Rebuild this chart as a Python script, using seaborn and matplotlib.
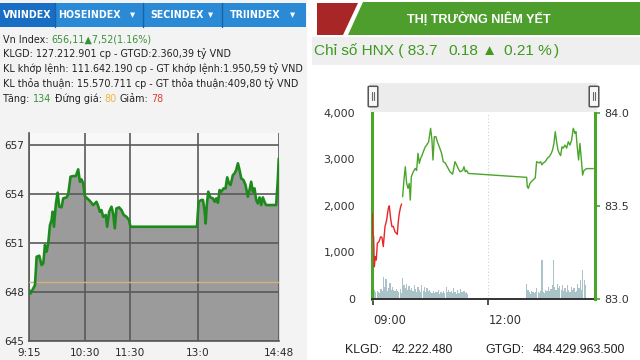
import matplotlib
matplotlib.use("Agg")
import matplotlib.pyplot as plt
from matplotlib.patches import Rectangle, Polygon, FancyBboxPatch
from matplotlib.lines import Line2D
import seaborn as sns
import pandas as pd

# ---------------- VN-Index (left panel) ----------------
vn_minutes = [0, 1.8, 5.3, 7.6, 9.8, 13.3, 16.4, 18.7, 20.9, 23.1, 25.3, 27.6, 29.8, 31.1, 32.9,
              35.6, 37.8, 40, 43.1, 45.3, 49.8, 52, 55.1, 58.7, 62.2, 65.3, 67.6, 69.8, 72, 74.2,
              77.3, 80.9, 85.3, 89.8, 92, 94.2, 96.4, 98.7, 102.2, 104, 106.7, 109.8, 112, 114.2,
              116.4, 120, 123.1, 126.2, 129.8, 133.3, 135.1, 224, 226.2, 229.8, 232, 234.2, 235.6,
              237.3, 239.1, 241.8, 245.3, 247.6, 249.8, 252, 254.2, 256.4, 259.6, 262.2, 264.4,
              266.7, 268.9, 272, 274.2, 276.4, 278.7, 280.9, 283.1, 286.2, 288.9, 292, 294.2, 296.4,
              298.7, 300.9, 303.1, 305.3, 307.6, 309.8, 312, 314.2, 316.4, 329.8, 332, 333.3]
vn_values = [648.10, 647.90, 648.21, 648.41, 650.15, 650.21, 649.64, 649.74, 650.87, 650.46, 650.97,
             652.09, 652.40, 652.91, 651.99, 653.42, 654.08, 653.22, 653.18, 653.73, 653.79, 653.99,
             655.06, 655.10, 655.10, 655.51, 654.75, 654.89, 654.65, 653.87, 653.73, 653.58, 653.32,
             653.52, 653.26, 652.91, 653.01, 652.60, 652.71, 651.99, 652.91, 653.22, 652.81, 651.89,
             653.11, 653.18, 653.01, 652.71, 652.60, 652.40, 651.99, 651.99, 653.52, 653.63, 653.63,
             652.97, 652.19, 653.42, 654.14, 653.79, 653.73, 653.52, 653.73, 653.46, 654.24, 654.14,
             654.34, 654.34, 655.02, 654.65, 654.55, 655.16, 655.26, 655.47, 655.88, 655.47, 654.96,
             654.85, 654.55, 653.83, 654.24, 654.75, 654.14, 654.34, 653.63, 653.42, 653.79, 653.32,
             653.79, 653.52, 653.32, 653.32, 654.85, 656.18]
vn_ref = 648.59
vn_xticks = [0, 75, 135, 225, 333]
vn_xlabels = ["9:15", "10:30", "11:30", "13:0", "14:48"]
vn_yticks = [645, 648, 651, 654, 657]
vn_tabs = ["VNINDEX", "HOSEINDEX", "SECINDEX", "TRIINDEX"]
vn_info = ["KLGD: 127.212.901 cp - GTGD:2.360,39 tỷ VND",
           "KL khớp lệnh: 111.642.190 cp - GT khớp lệnh:1.950,59 tỷ VND",
           "KL thỏa thuận: 15.570.711 cp - GT thỏa thuận:409,80 tỷ VND"]

# ---------------- HNX (right panel) ----------------
hnx_minutes = [-1.6, -1, 0.5, 1.6, 3.1, 4.7, 6.3, 8.9, 11.5, 13.6, 15.6, 18.3, 20.9, 23.5, 25, 27.1,
               29.2, 31.3, 33.9, 37.6, 39.1, 40.7, 42.8, 44.3,
               45.9, 48, 50.1, 52.2, 54.3, 56.3, 57.9, 59.5, 62.6, 65.7, 67.8, 69.9, 72, 74.1, 76.2,
               78.2, 81.4, 83.5, 86.6, 89.7, 91.8, 93.4, 95.5, 98.1, 100.2, 103.3, 106.9, 109.5,
               112.7, 115.8, 120, 124.2, 127.8, 130.4, 133, 135.6, 139.8, 141.9, 144, 146.1, 148.7,
               240, 241, 242.6, 245.2, 247.3, 250.4, 253.5, 255.6, 259.8, 261.9, 264, 266, 269.2,
               272.3, 275.4, 278.6, 280.6, 282.7, 284.8, 286.9, 289, 291.1, 293.2, 295.3, 297.3, 300,
               302.6, 305.2, 307.8, 310.4, 313, 315.6, 317.2, 319.2, 321.3, 323.4, 325.5, 327.6,
               329.7, 333.9, 339.1, 344.3]
hnx_prices = [83.460, 83.353, 83.334, 83.173, 83.227, 83.209, 83.299, 83.308, 83.334, 83.330, 83.281,
              83.388, 83.424, 83.487, 83.500, 83.433, 83.388, 83.390, 83.361, 83.347, 83.415, 83.460,
              83.495, 83.510,
              83.549, 83.639, 83.710, 83.620, 83.594, 83.620, 83.531, 83.656, 83.683, 83.701, 83.690,
              83.782, 83.728, 83.755, 83.770, 83.790, 83.817, 83.826, 83.844, 83.916, 83.853, 83.746,
              83.871, 83.871, 83.844, 83.817, 83.782, 83.737, 83.730, 83.710, 83.683, 83.670, 83.737,
              83.720, 83.700, 83.683, 83.690, 83.710, 83.683, 83.690, 83.674,
              83.653, 83.603, 83.594, 83.620, 83.630, 83.640, 83.650, 83.737, 83.730, 83.737, 83.720,
              83.730, 83.737, 83.755, 83.764, 83.782, 83.800, 83.835, 83.898, 83.844, 83.800, 83.782,
              83.770, 83.817, 83.810, 83.826, 83.810, 83.844, 83.826, 83.853, 83.916, 83.889, 83.898,
              83.817, 83.746, 83.835, 83.755, 83.665, 83.690, 83.700, 83.700, 83.700]
hnx_ref = 83.52
vol_minutes = [0, 2, 4, 6, 8, 10, 12, 14, 16, 18, 20, 22, 24, 26, 28, 30, 32, 34, 36, 38, 40, 42, 44,
               46, 48, 50, 52, 54, 56, 58, 60, 62, 64, 66, 68, 70, 72, 74, 76, 78, 80, 82, 84, 86,
               88, 90, 92, 94, 96, 98, 100, 102, 104, 106, 108, 110, 112, 114, 116, 118, 120, 122,
               124, 126, 128, 130, 132, 134, 136, 138, 140, 142, 144, 146, 148,
               240, 242, 244, 246, 248, 250, 252, 254, 256, 258, 260, 262, 264, 266, 268, 270, 272,
               274, 276, 278, 280, 282, 284, 286, 288, 290, 292, 294, 296, 298, 300, 302, 304, 306,
               308, 310, 312, 314, 316, 318, 320, 322, 324, 326, 328, 330, 332]
vol_values = [380, 200, 150, 180, 160, 130, 210, 170, 480, 260, 420, 180, 230, 350, 190, 260, 200,
              170, 220, 180, 150, 210, 130, 460, 300, 240, 330, 200, 270, 190, 230, 170, 300, 220,
              160, 250, 190, 150, 310, 180, 260, 140, 230, 170, 200, 150, 130, 180, 120, 160, 140,
              190, 110, 150, 130, 170, 120, 250, 160, 200, 140, 180, 120, 230, 150, 110, 190, 130,
              220, 160, 140, 180, 120, 150, 100,
              330, 200, 150, 110, 180, 140, 120, 160, 230, 140, 120, 180, 840, 150, 130, 200, 170,
              260, 180, 220, 300, 840, 250, 190, 330, 240, 280, 200, 300, 180, 240, 160, 300, 200,
              150, 260, 190, 230, 140, 180, 320, 240, 400, 200, 620, 400, 300]
hnx_xticks = [0, 180]
hnx_xlabels = ["09:00", "12:00"]
vol_yticks = [0, 1000, 2000, 3000, 4000]
price_yticks = [83.0, 83.5, 84.0]

W, H = 640, 360
sns.set_theme(style="white")
plt.rcParams["font.family"] = ["DejaVu Sans"]
NARROW = ["Liberation Sans Narrow", "Liberation Sans", "DejaVu Sans"]

fig = plt.figure(figsize=(6.4, 3.6), dpi=100)
fig.patch.set_facecolor("white")
R = fig.canvas.get_renderer()


def fx(x):
    return x / W


def fy(y):
    return 1 - y / H


def rect(x0, y0, x1, y1, color, z=0, **kw):
    fig.patches.append(Rectangle((fx(x0), fy(y1)), fx(x1 - x0), (y1 - y0) / H,
                                 transform=fig.transFigure, facecolor=color,
                                 edgecolor="none", zorder=z, **kw))


def fit_size(s, width, family, weight="normal", base=10):
    t = fig.text(0, 0, s, fontsize=base, family=family, weight=weight)
    w = t.get_window_extent(renderer=R).width
    t.remove()
    return base * width / w


def chain(x, y, parts, size, family, weight="normal"):
    for s, c, gap in parts:
        x += gap
        t = fig.text(fx(x), fy(y), s, color=c, fontsize=size, family=family,
                     weight=weight, va="center", ha="left")
        x = t.get_window_extent(renderer=R).x1
    return x


# ================= LEFT PANEL =================
rect(0, 0, 307, 360, "#f3f3f3", z=-5)
rect(0, 3, 306, 27, "#2a8ad6", z=1)
rect(0, 3, 55, 27, "#176ec4", z=2)
for xs in [55, 143, 222]:
    fig.lines.append(Line2D([fx(xs), fx(xs)], [fy(3), fy(27)], transform=fig.transFigure,
                            color="#1a62a8", lw=1, zorder=3))
tab_size = fit_size("HOSEINDEX", 63, ["DejaVu Sans"], weight="bold")
fig.text(fx(27.5), fy(15.5), vn_tabs[0], color="white", fontsize=tab_size, weight="bold",
         ha="center", va="center")
for label, x0, xa in [(vn_tabs[1], 58, 133), (vn_tabs[2], 150, 211), (vn_tabs[3], 230, 293)]:
    fig.text(fx(x0), fy(15.5), label, color="white", fontsize=tab_size, weight="bold",
             ha="left", va="center")
    fig.text(fx(xa), fy(15), "▼", color="white", fontsize=tab_size * 0.7, ha="center", va="center")

info_size = fit_size(vn_info[1], 300, ["DejaVu Sans"])
DARK = "#222222"
chain(3, 40, [("Vn Index:", DARK, 0), ("656,11▲7,52(1.16%)", "#3a923a", 3)], info_size, ["DejaVu Sans"])
for i, s in enumerate(vn_info):
    chain(3, 53.5 + 15 * i, [(s, DARK, 0)], info_size, ["DejaVu Sans"])
chain(3, 98.5, [("Tăng:", DARK, 0), ("134", "#3a923a", 3), ("Đứng giá:", DARK, 3),
                ("80", "#f2b43a", 3), ("Giảm:", DARK, 3), ("78", "#e23b3b", 3)],
      info_size, ["DejaVu Sans"])

ax1 = fig.add_axes([fx(29.3), fy(340.7), 250 / W, (340.7 - 133) / H])
ax1.set_zorder(2)
ax1.set_facecolor("#f8f8f8")
ax1.fill_between(vn_minutes, vn_values, 645, color="#9b9b9b", linewidth=0, zorder=1)
ax1.axhline(vn_ref, color="#d3b17c", lw=1.0, zorder=3)
sns.lineplot(x=vn_minutes, y=vn_values, ax=ax1, color="#1e8a1e", linewidth=1.9,
             estimator=None, sort=False, zorder=4)
ax1.set_xlim(0, 334)
ax1.set_ylim(645, 657.74)
ax1.set_xticks(vn_xticks)
ax1.set_xticklabels(vn_xlabels)
ax1.set_yticks(vn_yticks)
ax1.set_yticklabels([str(v) for v in vn_yticks])
ax1.set_axisbelow(False)
ax1.grid(True, color="#5a5a5a", lw=1.2)
ax1.tick_params(axis="both", length=0, labelsize=7.6, labelcolor="#2a2a2a")
ax1.tick_params(axis="x", pad=5)
ax1.tick_params(axis="y", pad=3.5)
ax1.set_xlabel("")
ax1.set_ylabel("")
for side in ["top", "right"]:
    ax1.spines[side].set_visible(False)
for side in ["left", "bottom"]:
    ax1.spines[side].set_color("#5a5a5a")
    ax1.spines[side].set_linewidth(1.2)

# ================= RIGHT PANEL =================
fig.patches.append(Polygon([(fx(317), fy(3)), (fx(358), fy(3)), (fx(343), fy(35)), (fx(317), fy(35))],
                           closed=True, transform=fig.transFigure, facecolor="#a82626",
                           edgecolor="none", zorder=1))
fig.patches.append(Polygon([(fx(363), fy(2)), (fx(640), fy(2)), (fx(640), fy(35)), (fx(348), fy(35))],
                           closed=True, transform=fig.transFigure, facecolor="#4e9e2e",
                           edgecolor="none", zorder=1))
title_size = fit_size("THỊ TRƯỜNG NIÊM YẾT", 143, NARROW, weight="bold")
fig.text(fx(478.5), fy(18.5), "THỊ TRƯỜNG NIÊM YẾT", color="white", fontsize=title_size,
         family=NARROW, weight="bold", ha="center", va="center")
rect(312, 37, 640, 65, "#efefef", z=1)
GREEN = "#3f9a1f"
sub_size = fit_size("Chỉ số HNX ( 83.7", 124, NARROW)
chain(314, 51, [("Chỉ số HNX ( 83.7", GREEN, 0), ("0.18", GREEN, 11), ("▲", GREEN, 4),
                ("0.21 %", GREEN, 6), (")", GREEN, 3)], sub_size, NARROW)
# navigator band with handles
rect(370, 83, 597, 112, "#ececec", z=1)
for hx in [373, 594]:
    fig.patches.append(FancyBboxPatch((fx(hx - 3.5), fy(106)), fx(7), 19 / H,
                                      boxstyle="round,pad=0.002", transform=fig.transFigure,
                                      facecolor="#f7f7f7", edgecolor="#555555", lw=1.1, zorder=3))
    for dx in [-1, 1]:
        fig.lines.append(Line2D([fx(hx + dx), fx(hx + dx)], [fy(92), fy(100)],
                                transform=fig.transFigure, color="#666666", lw=0.8, zorder=4))

axv = fig.add_axes([fx(371.7), fy(299), 223.3 / W, 186.3 / H])
axv.set_facecolor("white")
axv.bar(vol_minutes, vol_values, width=1.9, color="#aac3c9", linewidth=0, zorder=2)
axv.axvline(180, color="#d0d0d0", lw=0.8, ls=(0, (1, 2)), zorder=1)
axv.set_xlim(-2.5, 347)
axv.set_ylim(0, 4000)
axv.set_yticks(vol_yticks)
axv.set_yticklabels([f"{v:,}" for v in vol_yticks])
axv.set_xticks(hnx_xticks)
axv.set_xticklabels(hnx_xlabels, ha="left")
axv.tick_params(axis="y", length=0, pad=12, labelsize=8, labelcolor="#333333")
axv.tick_params(axis="x", length=4, width=1.2, color="#333333", pad=7, labelsize=8.3,
                labelcolor="#333333", bottom=True)
axv.grid(False)
axv.spines["top"].set_visible(False)
axv.spines["right"].set_visible(False)
axv.spines["left"].set_color("#4aa52a")
axv.spines["left"].set_linewidth(2.2)
axv.spines["bottom"].set_color("#333333")
axv.spines["bottom"].set_linewidth(1.4)

axp = axv.twinx()
df = pd.DataFrame({"minute": hnx_minutes, "price": hnx_prices})
below = df[df["price"] < hnx_ref]
above = df[df["price"] >= hnx_ref]
sns.lineplot(data=below, x="minute", y="price", ax=axp, color="#e8262a", linewidth=1.0,
             estimator=None, sort=False)
sns.lineplot(data=above, x="minute", y="price", ax=axp, color="#4aa52a", linewidth=1.0,
             estimator=None, sort=False)
axp.set_xlim(-2.5, 347)
axp.set_ylim(83.0, 84.0)
axp.set_yticks(price_yticks)
axp.set_yticklabels([f"{v:.1f}" for v in price_yticks])
axp.set_xlabel("")
axp.set_ylabel("")
axp.tick_params(axis="y", length=3.6, width=1.2, color="#4aa52a", pad=3, labelsize=8,
                labelcolor="#333333", right=True)
axp.grid(False)
for side in ["top", "left", "bottom"]:
    axp.spines[side].set_visible(False)
axp.spines["right"].set_color("#4aa52a")
axp.spines["right"].set_linewidth(2.2)

bot_size = fit_size("484.429.963.500", 93, NARROW)
for s, x in [("KLGD:", 345), ("42.222.480", 392), ("GTGD:", 485), ("484.429.963.500", 533)]:
    fig.text(fx(x), fy(350), s, color="#222222", fontsize=bot_size, family=NARROW,
             ha="left", va="center")

fig.savefig("out.png", dpi=100)
